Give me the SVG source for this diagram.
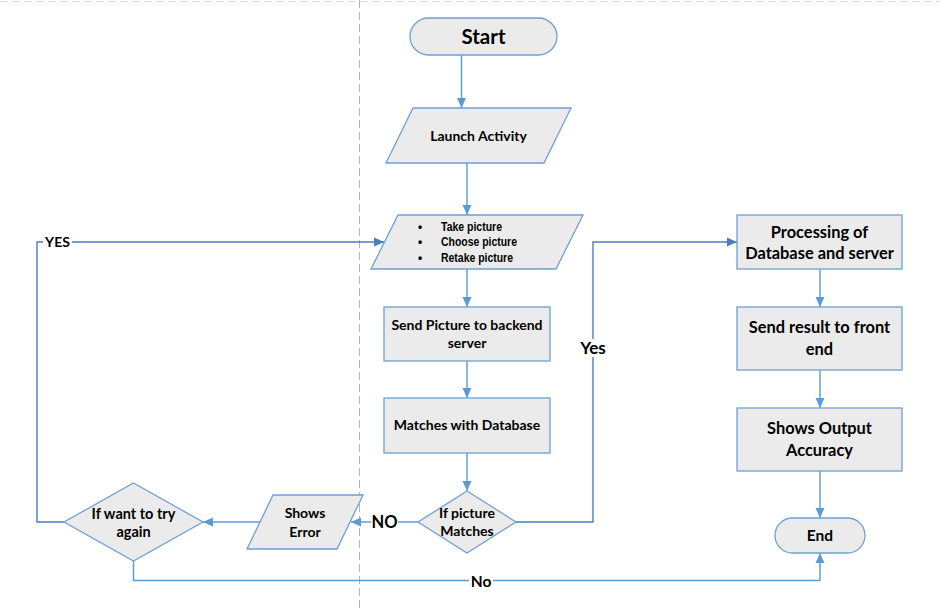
<svg xmlns="http://www.w3.org/2000/svg" width="940" height="608" viewBox="0 0 940 608">
<defs>
<marker id="arr" markerUnits="userSpaceOnUse" markerWidth="10" markerHeight="10" viewBox="0 0 10 10" refX="10" refY="5" orient="auto">
<path d="M0,0.5 L10,5 L0,9.5 z" fill="#5b9bd5"/>
</marker>
<marker id="arrd" markerUnits="userSpaceOnUse" markerWidth="10" markerHeight="10" viewBox="0 0 10 10" refX="10" refY="5" orient="auto">
<path d="M0,0.5 L10,5 L0,9.5 z" fill="#4a7ebb"/>
</marker>
<style>
.shape{fill:#ebebeb;stroke:#6fa0d3;stroke-width:1.3}
.t{font-family:Lato,"Open Sans","Liberation Sans",sans-serif;font-weight:bold;font-size:14px;fill:#000;text-anchor:middle}
.r{font-size:16.4px}
.lst{font-family:"Liberation Sans",Arial,sans-serif;font-weight:bold;font-size:12px;fill:#000}
.c{fill:none;stroke:#5b9bd5;stroke-width:1.4}
.cd{fill:none;stroke:#4a7ebb;stroke-width:1.4}
.lbl{font-family:Lato,"Open Sans","Liberation Sans",sans-serif;font-weight:bold;fill:#000;text-anchor:middle}
.guide{stroke:#b3b3b3;stroke-width:1;stroke-dasharray:8,4;fill:none}
</style>
</defs>
<rect width="940" height="608" fill="#fff"/>
<line class="guide" x1="0" y1="1.5" x2="940" y2="1.5" style="stroke:#dcdcdc"/>
<line class="guide" x1="359.5" y1="0" x2="359.5" y2="608"/>

<g id="connectors">
<path class="c" d="M461.5,55 V108" marker-end="url(#arr)"/>
<path class="c" d="M467,163 V215" marker-end="url(#arr)"/>
<path class="c" d="M467,269 V307" marker-end="url(#arr)"/>
<path class="c" d="M467,361 V398" marker-end="url(#arr)"/>
<path class="c" d="M467,453 V491" marker-end="url(#arr)"/>
<path class="c" d="M418,522 H351" marker-end="url(#arr)"/>
<path class="c" d="M260,522 H203" marker-end="url(#arr)"/>
<path class="cd" d="M64,522 H37 V242 H384" marker-end="url(#arrd)"/>
<path class="c" d="M133.5,561 V580.5 H820 V553" marker-end="url(#arr)"/>
<path class="cd" d="M516,522 H593 V242 H737" marker-end="url(#arrd)"/>
<path class="c" d="M820,269 V307" marker-end="url(#arr)"/>
<path class="c" d="M820,370 V408" marker-end="url(#arr)"/>
<path class="c" d="M820,471 V518" marker-end="url(#arr)"/>
<rect x="43" y="234" width="29" height="16" fill="#fff"/>
<text class="lbl" x="57.5" y="247" font-size="14">YES</text>
<rect x="371" y="514" width="27" height="17" fill="#fff"/>
<text class="lbl" x="384.5" y="528" font-size="16.5">NO</text>
<rect x="579" y="339" width="29" height="18" fill="#fff"/>
<text class="lbl" x="593" y="354" font-size="17">Yes</text>
<rect x="469" y="572" width="24" height="17" fill="#fff"/>
<text class="lbl" x="481" y="586.5" font-size="15.5">No</text>
</g>

<g id="start">
<rect class="shape" x="410" y="18" width="147" height="37" rx="18.5"/>
<text class="t" x="483.5" y="44" style="font-size:20.5px">Start</text>
</g>
<g id="launch">
<polygon class="shape" points="413,108 571,108 544,163 386,163"/>
<text class="t" x="478.5" y="141">Launch Activity</text>
</g>
<g id="choose">
<polygon class="shape" points="398,215 583,215 556,269 371,269"/>
<text class="lst" x="418" y="231">•</text>
<text class="lst" x="418" y="246">•</text>
<text class="lst" x="418" y="262">•</text>
<text class="lst" x="441" y="231" textLength="61" lengthAdjust="spacingAndGlyphs">Take picture</text>
<text class="lst" x="441" y="246" textLength="76" lengthAdjust="spacingAndGlyphs">Choose picture</text>
<text class="lst" x="441" y="262" textLength="72" lengthAdjust="spacingAndGlyphs">Retake picture</text>
</g>
<g id="send">
<rect class="shape" x="384" y="307" width="166" height="54"/>
<text class="t" x="467" y="330">Send Picture to backend</text>
<text class="t" x="467" y="348">server</text>
</g>
<g id="matches">
<rect class="shape" x="384" y="398" width="166" height="55"/>
<text class="t" x="467" y="430">Matches with Database</text>
</g>
<g id="ifmatch">
<polygon class="shape" points="467,491 516,522 467,553 418,522"/>
<text class="t" x="467" y="518">If picture</text>
<text class="t" x="467" y="536">Matches</text>
</g>
<g id="error">
<polygon class="shape" points="273,495 363,495 337,549 247,549"/>
<text class="t" x="305" y="518">Shows</text>
<text class="t" x="305" y="537">Error</text>
</g>
<g id="tryagain">
<polygon class="shape" points="133.5,483 203,522 133.5,561 64,522"/>
<text class="t" x="133.5" y="519" style="font-size:14.5px">If want to try</text>
<text class="t" x="133.5" y="537" style="font-size:14.5px">again</text>
</g>
<g id="processing">
<rect class="shape" x="737" y="215" width="165" height="54"/>
<text class="t r" x="819.5" y="237.5">Processing of</text>
<text class="t r" x="819.5" y="258.5">Database and server</text>
</g>
<g id="sendresult">
<rect class="shape" x="737" y="307" width="165" height="63"/>
<text class="t r" x="819.5" y="332.5">Send result to front</text>
<text class="t r" x="819.5" y="354.5">end</text>
</g>
<g id="output">
<rect class="shape" x="737" y="408" width="165" height="63"/>
<text class="t r" x="819.5" y="433.5">Shows Output</text>
<text class="t r" x="819.5" y="455.5">Accuracy</text>
</g>
<g id="end">
<rect class="shape" x="775" y="518" width="90" height="35" rx="17.5"/>
<text class="t" x="820" y="540.5" style="font-size:15.5px">End</text>
</g>
</svg>
